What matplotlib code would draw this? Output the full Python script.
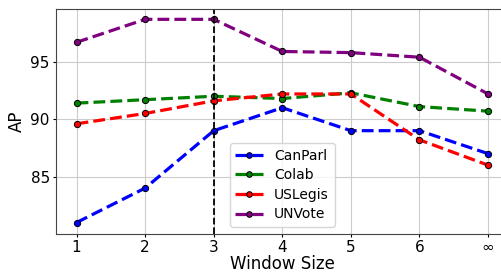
import matplotlib
matplotlib.use("Agg")
import matplotlib.pyplot as plt

x_labels = ["1", "2", "3", "4", "5", "6", "∞"]
canparl = [81.0, 84.0, 89.0, 91.0, 89.0, 89.0, 87.0]
colab = [91.4, 91.7, 92.0, 91.8, 92.3, 91.1, 90.7]
uslegis = [89.6, 90.5, 91.6, 92.2, 92.2, 88.2, 86.0]
unvote = [96.7, 98.7, 98.7, 95.9, 95.8, 95.4, 92.2]

series = [("CanParl", canparl, "blue"), ("Colab", colab, "green"),
          ("USLegis", uslegis, "red"), ("UNVote", unvote, "purple")]

fig = plt.figure(figsize=(5.01, 2.72), dpi=100)
ax = fig.add_axes([56/501, 1-234/272, (508.6-56)/501, (234-9)/272])
xs = list(range(1, len(x_labels) + 1))
for name, vals, c in series:
    ax.plot(xs, vals, linestyle="--", color=c, linewidth=2.3, marker="o",
            markersize=4.5, markeredgecolor="black", markeredgewidth=0.7, label=name)
ax.axvline(3, color="black", linestyle="--", linewidth=1.3)
ax.set_xticks(xs)
ax.set_xticklabels(x_labels)
ax.set_ylim(80.0, 99.6)
ax.set_yticks([85, 90, 95])
ax.grid(True, color="#cccccc", linewidth=0.8)
ax.tick_params(labelsize=11, length=2.5, pad=2)
ax.set_xlabel("Window Size", fontsize=12, labelpad=0)
ax.set_ylabel("AP", fontsize=12, labelpad=3)
for s in ax.spines.values():
    s.set_color("#444444")
ax.legend(loc="lower left", bbox_to_anchor=(0.384, 0.031), borderaxespad=0,
          fontsize=10, handlelength=2.0, borderpad=0.4, labelspacing=0.4,
          markerscale=0.9)
fig.savefig("out.png", dpi=100)
